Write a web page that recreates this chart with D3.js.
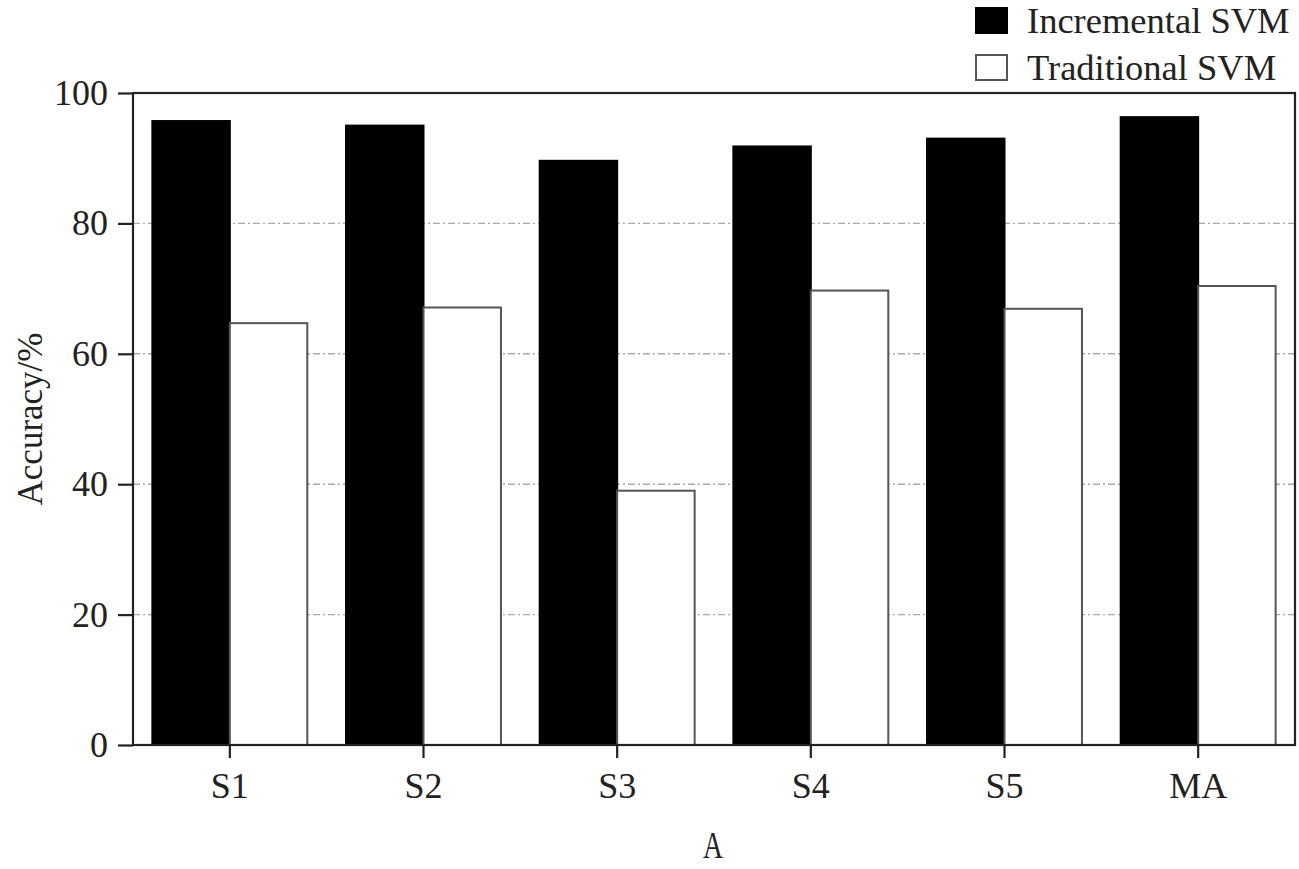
<!DOCTYPE html>
<html>
<head>
<meta charset="utf-8">
<script src="https://cdn.jsdelivr.net/npm/d3@7"></script>
<style>
  body { margin: 0; background: #fff; }
  svg text { font-family: "Liberation Serif", "Times New Roman", serif; fill: #222; }
</style>
</head>
<body>
<div id="chart"></div>
<script>
// Data
const categories = ["S1", "S2", "S3", "S4", "S5", "MA"];
const seriesNames = ["Incremental SVM", "Traditional SVM"];
const incremental = [95.7, 95.0, 89.6, 91.8, 93.0, 96.3];
const traditional = [64.7, 67.1, 39.0, 69.7, 66.9, 70.4];
const yTicks = [0, 20, 40, 60, 80, 100];

const width = 1299, height = 869;
const margin = { top: 93, right: 4, bottom: 124, left: 133 };
const plotW = width - margin.left - margin.right;
const plotH = height - margin.top - margin.bottom;

const svg = d3.select("#chart").append("svg")
  .attr("width", width)
  .attr("height", height);

const g = svg.append("g")
  .attr("transform", `translate(${margin.left},${margin.top})`);

// Scales
const x = d3.scaleBand()
  .domain(categories)
  .range([0, plotW])
  .paddingInner(0.2)
  .paddingOuter(0.1);

const xSub = d3.scaleBand()
  .domain(seriesNames)
  .range([0, x.bandwidth()]);

const y = d3.scaleLinear()
  .domain([0, 100])
  .range([plotH, 0]);

// Dash-dot grid lines at the inner ticks
g.append("g")
  .selectAll("line")
  .data(yTicks.filter(t => t > 0 && t < 100))
  .enter()
  .append("line")
  .attr("x1", 0)
  .attr("x2", plotW)
  .attr("y1", d => y(d))
  .attr("y2", d => y(d))
  .attr("stroke", "#aaa")
  .attr("stroke-width", 1.4)
  .attr("stroke-dasharray", "7,3,2,3");

// Bars
const rows = categories.map((c, i) => ({ cat: c, values: [incremental[i], traditional[i]] }));
const fills = ["#000", "#fff"];
const strokes = ["#000", "#555"];

const groups = g.append("g")
  .selectAll("g")
  .data(rows)
  .enter()
  .append("g")
  .attr("transform", d => `translate(${x(d.cat)},0)`);

groups.selectAll("rect")
  .data(d => d.values.map((v, k) => ({ name: seriesNames[k], value: v, k: k })))
  .enter()
  .append("rect")
  .attr("x", d => xSub(d.name))
  .attr("width", xSub.bandwidth())
  .attr("y", d => y(d.value))
  .attr("height", d => plotH - y(d.value))
  .attr("fill", d => fills[d.k])
  .attr("stroke", d => strokes[d.k])
  .attr("stroke-width", 2);

// Frame
g.append("rect")
  .attr("width", plotW)
  .attr("height", plotH)
  .attr("fill", "none")
  .attr("stroke", "#222")
  .attr("stroke-width", 2.2);

// Axes
const yAxis = g.append("g")
  .call(d3.axisLeft(y).tickValues(yTicks).tickSize(15).tickPadding(10));
const xAxis = g.append("g")
  .attr("transform", `translate(0,${plotH})`)
  .call(d3.axisBottom(x).tickSize(13).tickPadding(14));

[yAxis, xAxis].forEach(a => {
  a.select(".domain").remove();
  a.selectAll(".tick line").attr("stroke", "#222").attr("stroke-width", 2.2);
  a.selectAll(".tick text").attr("font-size", 36).attr("fill", "#222")
    .style("font-family", '"Liberation Serif", serif');
});

// Axis titles
svg.append("text")
  .attr("transform", `translate(42,${margin.top + plotH * 0.5}) rotate(-90)`)
  .attr("text-anchor", "middle")
  .attr("font-size", 35)
  .text("Accuracy/%");

svg.append("text")
  .attr("x", 713)
  .attr("y", 858)
  .attr("text-anchor", "middle")
  .attr("font-size", 37)
  .attr("transform", "translate(713,0) scale(0.75,1) translate(-713,0)")
  .text("A");

// Legend
const legend = svg.append("g").attr("transform", "translate(976,8)");
const legendRows = legend.selectAll("g")
  .data(seriesNames)
  .enter()
  .append("g")
  .attr("transform", (d, i) => `translate(0,${i * 47})`);

legendRows.append("rect")
  .attr("width", 31)
  .attr("height", 25)
  .attr("fill", (d, i) => fills[i])
  .attr("stroke", (d, i) => strokes[i])
  .attr("stroke-width", 2);

legendRows.append("text")
  .attr("x", 51)
  .attr("y", 25)
  .attr("font-size", 36.5)
  .text(d => d);
</script>
</body>
</html>
